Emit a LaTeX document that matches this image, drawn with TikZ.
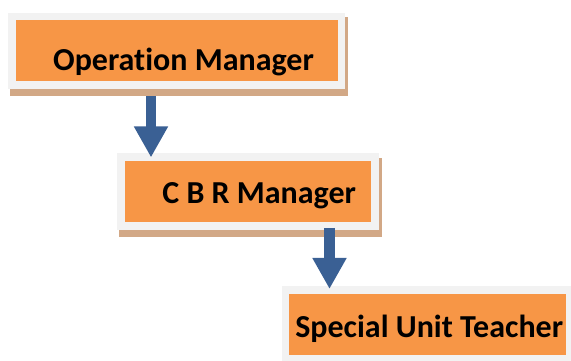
\documentclass[tikz,border=0pt]{standalone}
\usepackage{fontspec}
\setmainfont[Ligatures=NoCommon]{Carlito}
\usetikzlibrary{arrows.meta}
\usetikzlibrary{backgrounds}
\definecolor{boxorange}{HTML}{F79646}
\definecolor{framegray}{HTML}{F2F2F2}
\definecolor{shadowtan}{HTML}{D2A886}
\definecolor{arrowblue}{HTML}{3A6094}
\tikzset{
	every node/.style = {font=\fontsize{32}{36}\selectfont\bfseries},
	rolebox/.style = {fill=boxorange, draw=framegray, line width=7.5pt, inner sep=0pt, outer sep=3.75pt},
	boxshadow/.style = {fill=shadowtan},
	flow/.style = {draw=arrowblue, line width=10.5pt, -{Triangle[width=32pt,length=31pt]}}
}

\begin{document}
\begin{tikzpicture}[x=1pt, y=1pt]
		\clip (0,0) rectangle (571,361);
		% boxes
		\node[rolebox, minimum width=329.5pt, minimum height=68.8pt, text height=39pt, text depth=0pt] (om) at (176.5,310.2) {\hspace*{14pt}Operation Manager};
		\node[rolebox, minimum width=254pt, minimum height=69pt, text height=27pt, text depth=3pt] (cbr) at (248.2,169.3) {\hspace*{22pt}C B R Manager};
		\node[rolebox, minimum width=284.2pt, minimum height=68.5pt, text height=28.6pt, text depth=3pt] (sut) at (427.7,36.5) {\hspace*{3pt}Special Unit Teacher};
		
		% shadows
		\begin{scope}[on background layer]
			\foreach \b in {om, cbr, sut}
				\fill[boxshadow] ([shift={(2pt,-4.5pt)}]\b.north west) rectangle ([shift={(3pt,-7pt)}]\b.south east);
		\end{scope}
		
		% arrows
		\coordinate (a1) at ([xshift=-25.5pt, yshift=-7pt]om.south);
		\draw[flow] (a1) -- ([yshift=-4pt]a1 |- cbr.north);
		\coordinate (a2) at ([xshift=81.3pt, yshift=2pt]cbr.south);
		\draw[flow] (a2) -- ([yshift=-2.5pt]a2 |- sut.north);
	\end{tikzpicture}
\end{document}
